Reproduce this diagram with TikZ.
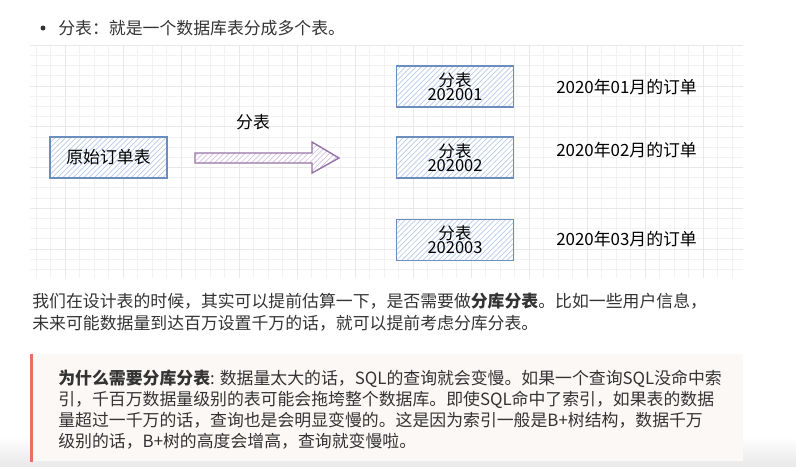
\documentclass[tikz,border=0pt]{standalone}
\usepackage{fontspec}
\setmainfont{Noto Sans CJK SC}
\usetikzlibrary{patterns}

\definecolor{boxblue}{HTML}{6C8EBF}
\definecolor{hatchblue}{HTML}{B8CCEA}
\definecolor{arrpurple}{HTML}{9673A6}
\definecolor{hatchpurple}{HTML}{D6C3DF}
\definecolor{gridminor}{HTML}{F2F2F2}
\definecolor{gridmajor}{HTML}{E8E8E8}
\definecolor{quotebar}{HTML}{E8705F}
\definecolor{quotebg}{HTML}{FCF8F6}
\definecolor{bodytext}{HTML}{333333}

\begin{document}
\begin{tikzpicture}[x=0.02cm,y=-0.02cm]
   \tikzstyle{every node}=[inner sep=0pt]
   \tikzstyle{txt}=[anchor=west,text=bodytext,font=\fontsize{9.6}{11}\selectfont]
   \tikzstyle{lbl}=[anchor=west,font=\fontsize{9.6}{11}\selectfont]
   \tikzstyle{tbl}=[draw=boxblue,line width=0.8pt,preaction={fill=white},
      pattern=north east lines,pattern color=hatchblue,
      minimum width=2.34cm,minimum height=0.82cm,align=center,
      font=\fontsize{9.4}{8}\selectfont]

   \useasboundingbox (0,0) rectangle (796,467);
   \shade [top color=white,bottom color=gray!18] (0,436) rectangle (796,467);

   \begin{scope}
      \clip (30,45) rectangle (743,278);
      \foreach \i in {-3,...,48} \draw [gridminor,line width=0.5pt] ({65+14.5*\i},45) -- ({65+14.5*\i},278);
      \foreach \j in {-4,...,19} \draw [gridminor,line width=0.5pt] (30,{86+10.19*\j}) -- (743,{86+10.19*\j});
      \foreach \i in {-1,...,12} \draw [gridmajor,line width=0.5pt] ({65+58*\i},45) -- ({65+58*\i},278);
      \foreach \j in {-1,...,5} \draw [gridmajor,line width=0.5pt] (30,{86+40.75*\j}) -- (743,{86+40.75*\j});
   \end{scope}

   \node (bl) at (43,28) [circle,fill=bodytext,minimum size=0.1cm] {} ;
   \node (hd) [txt] at (58,28) {分表：就是一个数据库表分成多个表。} ;

   \node (ot) [tbl,font=\fontsize{9.6}{11}\selectfont] at (108.5,157.5) {原始订单表} ;

   \node (fb) at (253,122) [font=\fontsize{9.6}{11}\selectfont] {分表} ;
   \draw [arrpurple,line width=0.8pt,preaction={fill=white},
      pattern=north east lines,pattern color=hatchpurple]
      (195,153) -- (312,153) -- (312,142) -- (339,158) -- (312,173) -- (312,163) -- (195,163) -- cycle ;

   \node (t1) [tbl] at (455,86.5) {分表\\202001} ;
   \node (t2) [tbl] at (455,157.5) {分表\\202002} ;
   \node (t3) [tbl] at (455,240) {分表\\202003} ;

   \node (l1) [lbl] at (556,87) {2020年01月的订单} ;
   \node (l2) [lbl] at (556,150) {2020年02月的订单} ;
   \node (l3) [lbl] at (556,239) {2020年03月的订单} ;

   \node (p1) [txt] at (32,301) {我们在设计表的时候，其实可以提前估算一下，是否需要做\textbf{分库分表}。比如一些用户信息，} ;
   \node (p2) [txt] at (32,323) {未来可能数据量到达百万设置千万的话，就可以提前考虑分库分表。} ;

   \fill [quotebg] (31,354) rectangle (743,461) ;
   \fill [quotebar] (30,354) rectangle (33,462) ;

   \node (q1) [txt] at (58,379) {\textbf{为什么需要分库分表}: 数据量太大的话，SQL的查询就会变慢。如果一个查询SQL没命中索} ;
   \node (q2) [txt] at (58,400) {引，千百万数据量级别的表可能会拖垮整个数据库。即使SQL命中了索引，如果表的数据} ;
   \node (q3) [txt] at (58,420) {量超过一千万的话，查询也是会明显变慢的。这是因为索引一般是B+树结构，数据千万} ;
   \node (q4) [txt] at (58,441) {级别的话，B+树的高度会增高，查询就变慢啦。} ;

\end{tikzpicture}
\end{document}
